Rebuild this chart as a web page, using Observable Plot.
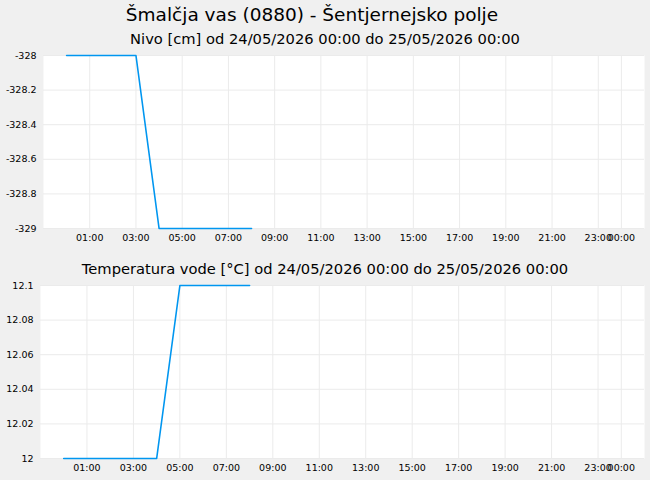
<!DOCTYPE html>
<html><head><meta charset="utf-8">
<script src="https://cdn.jsdelivr.net/npm/d3@7"></script>
<script src="https://cdn.jsdelivr.net/npm/@observablehq/plot@0.6"></script>
<style>
html,body{margin:0;padding:0;background:#f0f0f0;}
#wrap{position:relative;width:650px;height:480px;background:#f0f0f0;font-family:"DejaVu Sans",sans-serif;overflow:hidden;}
.t{position:absolute;left:0;width:650px;text-align:center;white-space:nowrap;color:#000;}
#title{top:3px;left:-13px;font-size:18.5px;line-height:24px;}
#sub1{top:30px;font-size:14.7px;line-height:18px;}
#sub2{top:260px;font-size:14.7px;line-height:18px;}
#c1{position:absolute;left:0;top:50px;}
#c2{position:absolute;left:0;top:280px;}
svg{display:block;}
</style>
</head><body>
<div id="wrap">
  <div class="t" id="title">Šmalčja vas (0880) - Šentjernejsko polje</div>
  <div class="t" id="sub1">Nivo [cm] od 24/05/2026 00:00 do 25/05/2026 00:00</div>
  <div id="c1"></div>
  <div class="t" id="sub2">Temperatura vode [°C] od 24/05/2026 00:00 do 25/05/2026 00:00</div>
  <div id="c2"></div>
</div>
<script>
const times = ["2026-05-24T00:00Z","2026-05-24T01:00Z","2026-05-24T02:00Z","2026-05-24T03:00Z","2026-05-24T04:00Z","2026-05-24T05:00Z","2026-05-24T06:00Z","2026-05-24T07:00Z","2026-05-24T08:00Z"];
const nivo = [-328,-328,-328,-328,-329,-329,-329,-329,-329];
const temp = [12,12,12,12,12,12.1,12.1,12.1,12.1];
const xTickLabels = ["2026-05-24T01:00Z","2026-05-24T03:00Z","2026-05-24T05:00Z","2026-05-24T07:00Z","2026-05-24T09:00Z","2026-05-24T11:00Z","2026-05-24T13:00Z","2026-05-24T15:00Z","2026-05-24T17:00Z","2026-05-24T19:00Z","2026-05-24T21:00Z","2026-05-24T23:00Z","2026-05-25T00:00Z"];
const xDomain = ["2026-05-23T23:00Z","2026-05-25T01:00Z"];
const nivoTicks = [-329,-328.8,-328.6,-328.4,-328.2,-328];
const tempTicks = [12,12.02,12.04,12.06,12.08,12.1];

const xTicks = xTickLabels.map(d => new Date(d));
function chart(values, yTicks, marginLeft, height, marginBottom) {
  const data = times.map((t, i) => ({t: new Date(t), v: values[i]}));
  return Plot.plot({
    width: 650, height, marginTop: 5, marginBottom, marginLeft, marginRight: 6,
    style: {background: "transparent", fontFamily: "DejaVu Sans, sans-serif", fontSize: "9.5px", color: "#000", overflow: "visible"},
    x: {type: "utc", domain: xDomain.map(d => new Date(d)), label: null},
    y: {domain: [yTicks[0], yTicks[yTicks.length - 1]], label: null},
    marks: [
      Plot.frame({fill: "white", stroke: null}),
      Plot.gridX(xTicks, {stroke: "#ebebeb", strokeOpacity: 1}),
      Plot.gridY(yTicks, {stroke: "#ebebeb", strokeOpacity: 1}),
      Plot.lineY(data, {x: "t", y: "v", stroke: "#0096f0", strokeWidth: 1.6}),
      Plot.axisX(xTicks, {tickSize: 0, tickPadding: 6, tickFormat: d3.utcFormat("%H:%M"), label: null, fill: "#000"}),
      Plot.axisY(yTicks, {tickSize: 0, tickPadding: 7, tickFormat: d => String(d), label: null, fill: "#000"})
    ]
  });
}
document.getElementById("c1").appendChild(chart(nivo, nivoTicks, 43, 198, 20));
document.getElementById("c2").appendChild(chart(temp, tempTicks, 40, 200, 22));
</script>
</body></html>
